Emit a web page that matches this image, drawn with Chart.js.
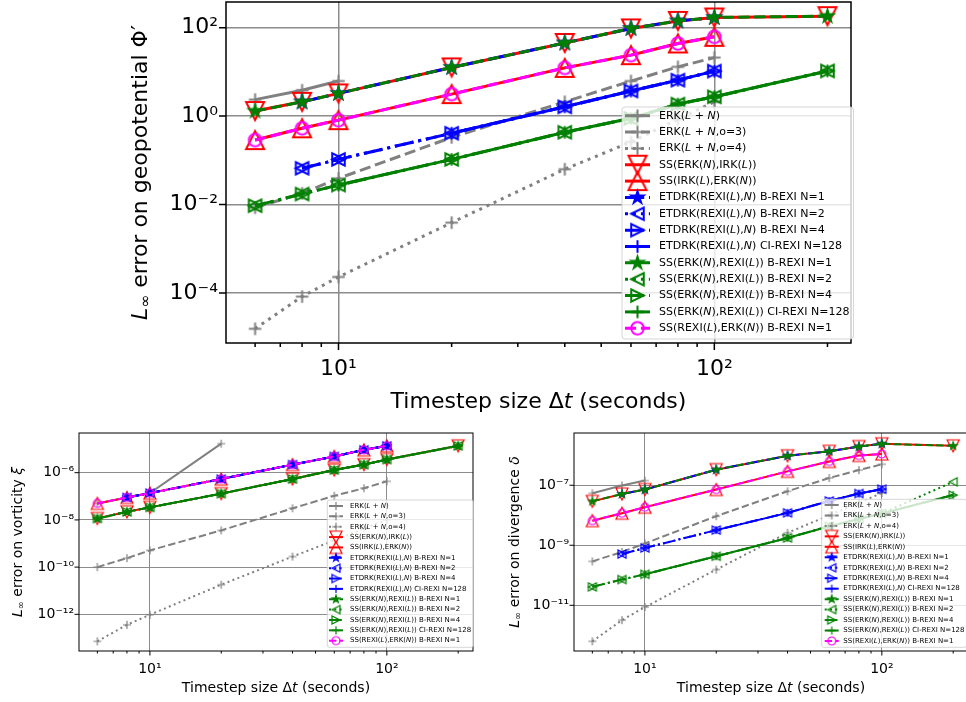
<!DOCTYPE html>
<html>
<head>
<meta charset="utf-8">
<script src="https://cdn.jsdelivr.net/npm/chart.js@4.4.1/dist/chart.umd.min.js"></script>
<style>
  html, body { margin: 0; padding: 0; background: #fff; overflow: hidden; width: 966px; height: 702px; }
  canvas { position: absolute; }
</style>
</head>
<body>
<canvas id="phiChart" width="966" height="420" style="left:0px;top:0px"></canvas>
<canvas id="vortChart" width="480" height="282" style="left:0px;top:420px"></canvas>
<canvas id="divChart" width="520" height="282" style="left:480px;top:420px"></canvas>
<script>
// timestep sizes (seconds)
const dt = [6, 8, 10, 20, 40, 60, 80, 100, 200];

// L_inf error on geopotential
const phiErk       = [2.36, 3.84, 6.2, null, null, null, null, null, null];
const phiErkO3     = [0.0085, 0.018, 0.039, 0.33, 2.1, 6.2, 13, 21, null];
const phiErkO4     = [1.55e-5, 8.3e-5, 2.3e-4, 3.9e-3, 0.063, 0.26, 0.85, 2.1, null];
const phiSsErkIrk  = [1.3, 2.1, 3.26, 12.6, 45, 96, 142, 170, 182];
const phiSsIrkErk  = [0.287, 0.53, 0.81, 3.14, 12.3, 23.9, 43.9, 62, null];
const phiEtdrkN1   = [null, 2.1, 3.26, 12.6, 45, 96, 142, 170, null];
const phiEtdrkN2   = [null, 0.066, 0.105, 0.41, 1.62, 3.7, 6.5, 10.4, null];
const phiEtdrkN4   = [null, 0.066, 0.105, 0.41, 1.62, 3.7, 6.5, 10.4, null];
const phiEtdrkCi   = [null, null, null, 0.41, 1.62, 3.7, 6.5, 10.4, null];
const phiSsRexiN1  = [1.3, 2.1, 3.26, 12.6, 45, 96, 142, 170, 182];
const phiSsRexiN2  = [0.0094, 0.0173, 0.0276, 0.105, 0.43, 0.89, 1.87, 2.73, 10.5];
const phiSsRexiN4  = [0.0094, 0.0173, 0.0276, 0.105, 0.43, 0.89, 1.87, 2.73, 10.5];
const phiSsRexiCi  = [null, null, 0.0276, 0.105, 0.43, 0.89, 1.87, 2.73, 10.5];
const phiSsRexiErk = [0.287, 0.53, 0.81, 3.14, 12.3, 23.9, 43.9, 62, null];

// L_inf error on vorticity
const vortErk       = [5.0e-8, 8.9e-8, 1.37e-7, 1.7e-5, null, null, null, null, null];
const vortErkO3     = [1.0e-10, 2.4e-10, 5.1e-10, 3.6e-9, 3.1e-8, 1.05e-7, 2.2e-7, 4.3e-7, null];
const vortErkO4     = [7.2e-14, 3.6e-13, 9.6e-13, 1.8e-11, 2.8e-10, 1.35e-9, 4.3e-9, 1.0e-8, null];
const vortSsErkIrk  = [1.15e-8, 2.2e-8, 3.4e-8, 1.3e-7, 5.4e-7, 1.3e-6, 2.2e-6, 3.6e-6, 1.37e-5];
const vortSsIrkErk  = [5.0e-8, 8.9e-8, 1.37e-7, 5.4e-7, 2.2e-6, 4.9e-6, 9.3e-6, 1.37e-5, null];
const vortEtdrkN1   = [null, 8.9e-8, 1.37e-7, 5.4e-7, 2.2e-6, 4.9e-6, 9.3e-6, 1.37e-5, null];
const vortEtdrkN2   = [null, 8.9e-8, 1.37e-7, 5.4e-7, 2.2e-6, 4.9e-6, 9.3e-6, 1.37e-5, null];
const vortEtdrkN4   = [null, 8.9e-8, 1.37e-7, 5.4e-7, 2.2e-6, 4.9e-6, 9.3e-6, 1.37e-5, null];
const vortEtdrkCi   = [null, null, null, 5.4e-7, 2.2e-6, 4.9e-6, 9.3e-6, 1.37e-5, null];
const vortSsRexiN1  = [1.15e-8, 2.2e-8, 3.4e-8, 1.3e-7, 5.4e-7, 1.3e-6, 2.2e-6, 3.6e-6, 1.37e-5];
const vortSsRexiN2  = [1.15e-8, 2.2e-8, 3.4e-8, 1.3e-7, 5.4e-7, 1.3e-6, 2.2e-6, 3.6e-6, 1.37e-5];
const vortSsRexiN4  = [1.15e-8, 2.2e-8, 3.4e-8, 1.3e-7, 5.4e-7, 1.3e-6, 2.2e-6, 3.6e-6, 1.37e-5];
const vortSsRexiCi  = [null, null, 3.4e-8, 1.3e-7, 5.4e-7, 1.3e-6, 2.2e-6, 3.6e-6, 1.37e-5];
const vortSsRexiErk = [5.0e-8, 8.9e-8, 1.37e-7, 5.4e-7, 2.2e-6, 4.9e-6, 9.3e-6, 1.37e-5, null];

// L_inf error on divergence
const divErk       = [5.4e-8, 9.8e-8, 1.43e-7, null, null, null, null, null, null];
const divErkO3     = [2.9e-10, 6.0e-10, 1.15e-9, 9.3e-9, 6.3e-8, 1.75e-7, 3.2e-7, 5.0e-7, null];
const divErkO4     = [6.3e-13, 3.2e-12, 8.7e-12, 1.55e-10, 2.6e-9, 1.0e-8, 2.6e-8, 5.5e-8, null];
const divSsErkIrk  = [2.9e-8, 5.1e-8, 7.2e-8, 3.3e-7, 9.6e-7, 1.35e-6, 1.95e-6, 2.4e-6, 2.05e-6];
const divSsIrkErk  = [6.6e-9, 1.17e-8, 1.85e-8, 7.2e-8, 2.9e-7, 6.2e-7, 9.8e-7, 1.1e-6, null];
const divEtdrkN1   = [null, 5.1e-8, 7.2e-8, 3.3e-7, 9.6e-7, 1.35e-6, 1.95e-6, 2.4e-6, null];
const divEtdrkN2   = [null, 5.1e-10, 8.1e-10, 3.2e-9, 1.2e-8, 3.0e-8, 5.3e-8, 7.4e-8, null];
const divEtdrkN4   = [null, 5.1e-10, 8.1e-10, 3.2e-9, 1.2e-8, 3.0e-8, 5.3e-8, 7.4e-8, null];
const divEtdrkCi   = [null, null, null, 3.2e-9, 1.2e-8, 3.0e-8, 5.3e-8, 7.4e-8, null];
const divSsRexiN1  = [2.9e-8, 5.1e-8, 7.2e-8, 3.3e-7, 9.6e-7, 1.35e-6, 1.95e-6, 2.4e-6, 2.05e-6];
const divSsRexiN2  = [4.1e-11, 7.2e-11, 1.08e-10, 4.3e-10, 1.75e-9, 4.3e-9, 7.5e-9, 1.15e-8, 1.3e-7];
const divSsRexiN4  = [4.1e-11, 7.2e-11, 1.08e-10, 4.3e-10, 1.75e-9, 4.3e-9, 7.5e-9, 1.15e-8, 4.7e-8];
const divSsRexiCi  = [null, null, 1.08e-10, 4.3e-10, 1.75e-9, 4.3e-9, 7.5e-9, 1.15e-8, 4.7e-8];
const divSsRexiErk = [6.6e-9, 1.17e-8, 1.85e-8, 7.2e-8, 2.9e-7, 6.2e-7, 9.8e-7, 1.1e-6, null];

// ticks
const xMajorTicks = [10, 100];
const xTickLabels = ['10¹', '10²'];
const xMinorTicks = [6, 7, 8, 9, 20, 30, 40, 50, 60, 70, 80, 90, 200];
const phiYTicks = [1e2, 1e0, 1e-2, 1e-4];
const phiYLabels = ['10²', '10⁰', '10⁻²', '10⁻⁴'];
const vortYTicks = [1e-6, 1e-8, 1e-10, 1e-12];
const vortYLabels = ['10⁻⁶', '10⁻⁸', '10⁻¹⁰', '10⁻¹²'];
const divYTicks = [1e-7, 1e-9, 1e-11];
const divYLabels = ['10⁻⁷', '10⁻⁹', '10⁻¹¹'];

// legend labels, $..$ = italic
const seriesNames = [
  'ERK($L + N$)', 'ERK($L + N$,o=3)', 'ERK($L + N$,o=4)',
  'SS(ERK($N$),IRK($L$))', 'SS(IRK($L$),ERK($N$))',
  'ETDRK(REXI($L$),$N$) B-REXI N=1', 'ETDRK(REXI($L$),$N$) B-REXI N=2',
  'ETDRK(REXI($L$),$N$) B-REXI N=4', 'ETDRK(REXI($L$),$N$) CI-REXI N=128',
  'SS(ERK($N$),REXI($L$)) B-REXI N=1', 'SS(ERK($N$),REXI($L$)) B-REXI N=2',
  'SS(ERK($N$),REXI($L$)) B-REXI N=4', 'SS(ERK($N$),REXI($L$)) CI-REXI N=128',
  'SS(REXI($L$),ERK($N$)) B-REXI N=1'
];

const lineStyles = [
  { color: '#808080', dash: 'solid', marker: 'plus' },
  { color: '#808080', dash: 'dashed', marker: 'plus' },
  { color: '#808080', dash: 'dotted', marker: 'plus' },
  { color: '#ff0000', dash: 'solid', marker: 'down' },
  { color: '#ff0000', dash: 'solid', marker: 'up' },
  { color: '#0000ff', dash: 'dashdot', marker: 'star' },
  { color: '#0000ff', dash: 'dotted', marker: 'left' },
  { color: '#0000ff', dash: 'dashdot', marker: 'right' },
  { color: '#0000ff', dash: 'solid', marker: 'plus' },
  { color: '#008000', dash: 'dashed', marker: 'star' },
  { color: '#008000', dash: 'dotted', marker: 'left' },
  { color: '#008000', dash: 'dashdot', marker: 'right' },
  { color: '#008000', dash: 'solid', marker: 'plus' },
  { color: '#ff00ff', dash: 'dashed', marker: 'circle' }
];

const FONT = '"DejaVu Sans"';
Chart.defaults.font.family = FONT;

function dashFor(kind, lw) {
  if (kind === 'dashed') return [3.7 * lw, 1.6 * lw];
  if (kind === 'dotted') return [1 * lw, 1.65 * lw];
  if (kind === 'dashdot') return [6.4 * lw, 1.6 * lw, 1 * lw, 1.6 * lw];
  return [];
}

// marker images, matplotlib-like shapes
function makeMarker(kind, color, s, lw) {
  const pad = Math.ceil(lw) + 2;
  const d = Math.ceil(s) + 2 * pad;
  const c = document.createElement('canvas');
  c.width = d; c.height = d;
  const g = c.getContext('2d');
  g.translate(d / 2, d / 2);
  g.strokeStyle = color; g.fillStyle = color; g.lineWidth = lw;
  const h = s / 2;
  g.beginPath();
  if (kind === 'up') { g.moveTo(0, -h); g.lineTo(-h, h); g.lineTo(h, h); g.closePath(); }
  else if (kind === 'down') { g.moveTo(0, h); g.lineTo(-h, -h); g.lineTo(h, -h); g.closePath(); }
  else if (kind === 'left') { g.moveTo(-h, 0); g.lineTo(h, -h); g.lineTo(h, h); g.closePath(); }
  else if (kind === 'right') { g.moveTo(h, 0); g.lineTo(-h, -h); g.lineTo(-h, h); g.closePath(); }
  else if (kind === 'circle') { g.arc(0, 0, h, 0, 2 * Math.PI); }
  else if (kind === 'plus') { g.moveTo(-h, 0); g.lineTo(h, 0); g.moveTo(0, -h); g.lineTo(0, h); }
  else if (kind === 'star') {
    for (let k = 0; k < 10; k++) {
      const r = k % 2 ? h * 0.381966 : h;
      const a = Math.PI / 5 * k;
      if (k === 0) g.moveTo(r * Math.sin(a), -r * Math.cos(a));
      else g.lineTo(r * Math.sin(a), -r * Math.cos(a));
    }
    g.closePath();
    g.fill();
  }
  g.stroke();
  return c;
}

function parseRich(label) {
  return label.split('$').map((t, i) => ({ t: t, it: i % 2 === 1 })).filter(p => p.t.length);
}

function segFont(seg, size) {
  const sz = seg.sub ? size * 0.7 : size;
  return (seg.it ? 'italic ' : '') + sz + 'px ' + FONT;
}

function richWidth(ctx, segs, size) {
  let w = 0;
  segs.forEach(s => { ctx.font = segFont(s, size); w += ctx.measureText(s.t).width; });
  return w;
}

function drawRich(ctx, segs, x, y, size) {
  let cx = x;
  segs.forEach(s => {
    ctx.font = segFont(s, size);
    ctx.fillText(s.t, cx, y + (s.sub ? size * 0.22 : 0));
    cx += ctx.measureText(s.t).width;
  });
}

function roundRect(ctx, x, y, w, h, r) {
  ctx.beginPath();
  ctx.moveTo(x + r, y);
  ctx.lineTo(x + w - r, y); ctx.quadraticCurveTo(x + w, y, x + w, y + r);
  ctx.lineTo(x + w, y + h - r); ctx.quadraticCurveTo(x + w, y + h, x + w - r, y + h);
  ctx.lineTo(x + r, y + h); ctx.quadraticCurveTo(x, y + h, x, y + h - r);
  ctx.lineTo(x, y + r); ctx.quadraticCurveTo(x, y, x + r, y);
  ctx.closePath();
}

function makeChart(id, series, yMin, yMax, yTicks, yLabels, yTitle, geo) {
  const markers = lineStyles.map(st => {
    const big = st.marker === 'up' || st.marker === 'down';
    return makeMarker(st.marker, st.color, big ? geo.bigMarker : geo.marker, geo.mlw);
  });

  const datasets = series.map((values, i) => ({
    label: seriesNames[i],
    data: dt.map((x, k) => ({ x: x, y: values[k] })).filter(p => p.y !== null),
    borderColor: lineStyles[i].color,
    backgroundColor: lineStyles[i].color,
    borderWidth: geo.lw,
    borderDash: dashFor(lineStyles[i].dash, geo.lw),
    pointStyle: markers[i],
    pointRadius: geo.marker / 2,
    pointHoverRadius: geo.marker / 2,
    fill: false,
    tension: 0,
    spanGaps: true,
    order: -i
  }));

  const decor = {
    id: 'decor',
    afterDraw(chart) {
      const ctx = chart.ctx, a = chart.chartArea;
      const xs = chart.scales.x, ys = chart.scales.y;
      ctx.save();
      ctx.setLineDash([]);
      ctx.strokeStyle = '#000';
      ctx.lineWidth = geo.tickWidth;
      ctx.beginPath();
      xMajorTicks.forEach(v => { const p = xs.getPixelForValue(v); ctx.moveTo(p, a.bottom); ctx.lineTo(p, a.bottom + geo.majorLen); });
      xMinorTicks.forEach(v => { const p = xs.getPixelForValue(v); if (p > a.right) return; ctx.moveTo(p, a.bottom); ctx.lineTo(p, a.bottom + geo.minorLen); });
      yTicks.forEach(v => { const p = ys.getPixelForValue(v); ctx.moveTo(a.left, p); ctx.lineTo(a.left - geo.majorLen, p); });
      ctx.stroke();
      ctx.lineWidth = geo.frameWidth;
      ctx.strokeRect(a.left, a.top, a.right - a.left, a.bottom - a.top);

      // legend
      const L = geo.legend;
      let maxW = 0;
      seriesNames.forEach(n => { maxW = Math.max(maxW, richWidth(ctx, parseRich(n), L.font)); });
      const w = L.textX - L.left + maxW + L.padR;
      roundRect(ctx, L.left, L.top, w, L.height, L.radius);
      ctx.fillStyle = 'rgba(255,255,255,0.8)';
      ctx.fill();
      ctx.strokeStyle = 'rgba(204,204,204,0.8)';
      ctx.lineWidth = 1;
      ctx.stroke();
      seriesNames.forEach((n, i) => {
        const y = L.firstRow + i * L.rowH;
        const st = lineStyles[i];
        ctx.beginPath();
        ctx.setLineDash(dashFor(st.dash, geo.lw));
        ctx.strokeStyle = st.color;
        ctx.lineWidth = geo.lw;
        ctx.moveTo(L.hx0, y); ctx.lineTo(L.hx1, y);
        ctx.stroke();
        ctx.setLineDash([]);
        const img = markers[i];
        ctx.drawImage(img, (L.hx0 + L.hx1) / 2 - img.width / 2, y - img.height / 2);
        ctx.fillStyle = '#000';
        ctx.textBaseline = 'middle';
        ctx.textAlign = 'left';
        drawRich(ctx, parseRich(n), L.textX, y, L.font);
      });

      // axis titles
      ctx.fillStyle = '#000';
      ctx.textBaseline = 'middle';
      const xTitle = [{ t: 'Timestep size Δ' }, { t: 't', it: true }, { t: ' (seconds)' }];
      const xw = richWidth(ctx, xTitle, geo.titleFont);
      drawRich(ctx, xTitle, (a.left + a.right) / 2 - xw / 2, geo.xTitleY, geo.titleFont);
      const yw = richWidth(ctx, yTitle, geo.titleFont);
      ctx.translate(geo.yTitleX, (a.top + a.bottom) / 2);
      ctx.rotate(-Math.PI / 2);
      drawRich(ctx, yTitle, -yw / 2, 0, geo.titleFont);
      ctx.restore();
    }
  };

  return new Chart(document.getElementById(id), {
    type: 'line',
    data: { datasets: datasets },
    options: {
      responsive: false,
      maintainAspectRatio: false,
      devicePixelRatio: 1,
      animation: false,
      events: [],
      layout: { autoPadding: false, padding: geo.padding },
      plugins: { legend: { display: false }, tooltip: { enabled: false } },
      scales: {
        x: {
          type: 'logarithmic', min: 5.02, max: 231,
          afterBuildTicks: s => { s.ticks = xMajorTicks.map(v => ({ value: v })); },
          afterFit: s => { s.height = geo.xHeight; s.paddingLeft = 0; s.paddingRight = 0; },
          ticks: {
            autoSkip: false, maxRotation: 0, padding: geo.xPad, color: '#000',
            font: { size: geo.tickFont, family: FONT },
            callback: v => { const k = xMajorTicks.indexOf(v); return k >= 0 ? xTickLabels[k] : ''; }
          },
          grid: { color: geo.gridColor, lineWidth: geo.gridWidth, drawTicks: false },
          border: { display: false }
        },
        y: {
          type: 'logarithmic', min: yMin, max: yMax,
          afterBuildTicks: s => { s.ticks = yTicks.map(v => ({ value: v })); },
          afterFit: s => { s.width = geo.yWidth; s.paddingTop = 0; s.paddingBottom = 0; },
          ticks: {
            autoSkip: false, padding: geo.yPad, color: '#000',
            font: { size: geo.tickFont, family: FONT },
            callback: v => { const k = yTicks.indexOf(v); return k >= 0 ? yLabels[k] : ''; }
          },
          grid: { color: geo.gridColor, lineWidth: geo.gridWidth, drawTicks: false },
          border: { display: false }
        }
      }
    },
    plugins: [decor]
  });
}

makeChart('phiChart',
  [phiErk, phiErkO3, phiErkO4, phiSsErkIrk, phiSsIrkErk, phiEtdrkN1, phiEtdrkN2, phiEtdrkN4, phiEtdrkCi,
   phiSsRexiN1, phiSsRexiN2, phiSsRexiN4, phiSsRexiCi, phiSsRexiErk],
  7.4e-6, 380, phiYTicks, phiYLabels,
  [{ t: 'L', it: true }, { t: '∞', sub: true }, { t: ' error on geopotential Φ′' }],
  {
    padding: { left: 0, top: 2, right: 115, bottom: 0 }, yWidth: 226, xHeight: 77,
    lw: 3, marker: 12.5, bigMarker: 18, mlw: 2,
    tickFont: 22, titleFont: 22, xPad: 13, yPad: 8,
    gridColor: '#8c8c8c', gridWidth: 1.5, tickWidth: 1.5, majorLen: 7, minorLen: 4, frameWidth: 1.5,
    xTitleY: 402, yTitleX: 141,
    legend: { left: 622, top: 107, height: 232, firstRow: 115.7, rowH: 16.35, hx0: 625, hx1: 650, textX: 659, font: 11, padR: 4, radius: 3 }
  });

makeChart('vortChart',
  [vortErk, vortErkO3, vortErkO4, vortSsErkIrk, vortSsIrkErk, vortEtdrkN1, vortEtdrkN2, vortEtdrkN4, vortEtdrkCi,
   vortSsRexiN1, vortSsRexiN2, vortSsRexiN4, vortSsRexiCi, vortSsRexiErk],
  2.8e-14, 4.8e-5, vortYTicks, vortYLabels,
  [{ t: 'L', it: true }, { t: '∞', sub: true }, { t: ' error on vorticity ' }, { t: 'ξ', it: true }],
  {
    padding: { left: 0, top: 13, right: 7, bottom: 0 }, yWidth: 79, xHeight: 51,
    lw: 2, marker: 8, bigMarker: 12, mlw: 1.2,
    tickFont: 14, titleFont: 14, xPad: 10, yPad: 5,
    gridColor: '#8c8c8c', gridWidth: 1, tickWidth: 1, majorLen: 4.5, minorLen: 2.5, frameWidth: 1,
    xTitleY: 268, yTitleX: 18,
    legend: { left: 327.3, top: 80, height: 147.3, firstRow: 86, rowH: 10.36, hx0: 329, hx1: 343, textX: 350, font: 7, padR: 2, radius: 2 }
  });

makeChart('divChart',
  [divErk, divErkO3, divErkO4, divSsErkIrk, divSsIrkErk, divEtdrkN1, divEtdrkN2, divEtdrkN4, divEtdrkCi,
   divSsRexiN1, divSsRexiN2, divSsRexiN4, divSsRexiCi, divSsRexiErk],
  3.0e-13, 5.5e-6, divYTicks, divYLabels,
  [{ t: 'L', it: true }, { t: '∞', sub: true }, { t: ' error on divergence ' }, { t: 'δ', it: true }],
  {
    padding: { left: 0, top: 13, right: 32, bottom: 0 }, yWidth: 94, xHeight: 51,
    lw: 2, marker: 8, bigMarker: 12, mlw: 1.2,
    tickFont: 14, titleFont: 14, xPad: 10, yPad: 5,
    gridColor: '#8c8c8c', gridWidth: 1, tickWidth: 1, majorLen: 4.5, minorLen: 2.5, frameWidth: 1,
    xTitleY: 268, yTitleX: 35,
    legend: { left: 341.7, top: 79.3, height: 148, firstRow: 85, rowH: 10.46, hx0: 344.7, hx1: 358.7, textX: 363.3, font: 7, padR: 2, radius: 2 }
  });
</script>
</body>
</html>
